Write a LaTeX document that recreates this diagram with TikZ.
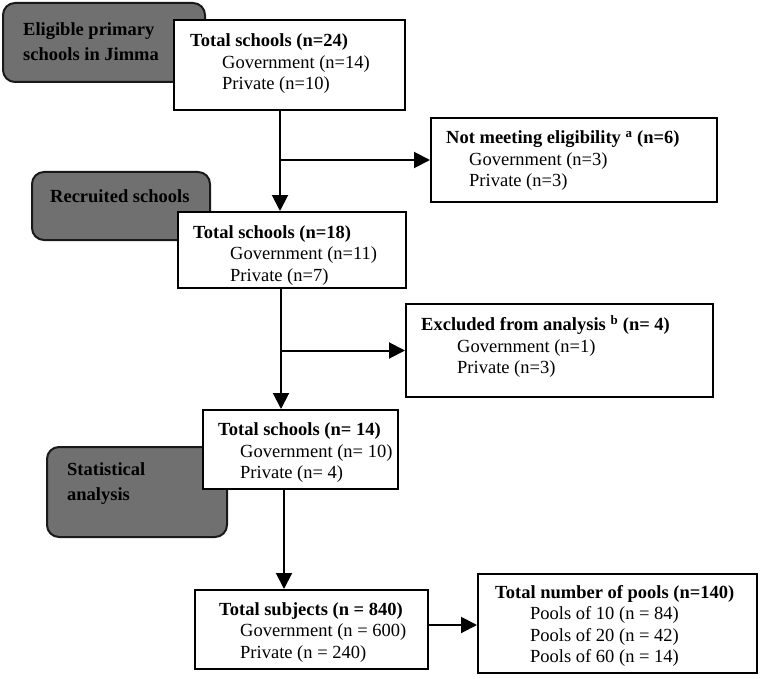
\documentclass[tikz,border=0pt]{standalone}
\usepackage{fontspec}
\setmainfont{Liberation Serif}
\usetikzlibrary{arrows.meta}
\definecolor{graybox}{RGB}{112,112,112}
\tikzset{
  whitebox/.style={draw=black, fill=white, line width=2pt, inner sep=0pt, minimum width=#1},
  graycard/.style={draw=black!90, fill=graybox, line width=2pt, rounded corners=12pt, inner sep=0pt},
  boxtext/.style={anchor=west, inner sep=0pt, align=left, font=\fontsize{18.5}{21.5}\selectfont},
  graytext/.style={anchor=west, inner sep=0pt, align=left, font=\fontsize{18.5}{24.5}\selectfont\bfseries},
  arr/.style={line width=2pt, -{Triangle[width=16pt,length=16pt]}}
}
\newcommand{\ind}[1]{\hspace*{#1pt}}
\begin{document}
\begin{tikzpicture}[x=1pt,y=-1pt]
\useasboundingbox (0,0) rectangle (762,679);
% gray cards
\node[graycard, minimum width=202pt, minimum height=79pt] (g1) at (104,42.5) {};
\node[graytext] (gt1) at (23,41.5) {Eligible primary\\schools in Jimma};
\node[graycard, minimum width=178pt, minimum height=68pt] (g2) at (121,206) {};
\node[graytext] (gt2) at (50,196) {Recruited schools};
\node[graycard, minimum width=180pt, minimum height=90pt] (g3) at (137,492) {};
\node[graytext] (gt3) at (67,483.5) {Statistical\\analysis};
% white boxes
\node[whitebox=231pt, minimum height=90pt] (b1) at (289.5,65) {};
\node[boxtext] (t1) at (190,64) {\textbf{Total schools (n=24)}\\\ind{32}Government (n=14)\\\ind{32}Private (n=10)};
\node[whitebox=286pt, minimum height=84pt] (b2) at (574,160) {};
\node[boxtext] (t2) at (446,161) {\textbf{Not meeting eligibility \textsuperscript{a} (n=6)}\\\ind{23}Government (n=3)\\\ind{23}Private (n=3)};
\node[whitebox=228pt, minimum height=76pt] (b3) at (292,250) {};
\node[boxtext] (t3) at (193,255.5) {\textbf{Total schools (n=18)}\\\ind{37}Government (n=11)\\\ind{37}Private (n=7)};
\node[whitebox=307pt, minimum height=93pt] (b4) at (559.5,350.5) {};
\node[boxtext] (t4) at (421,346.5) {\textbf{Excluded from analysis \textsuperscript{b} (n= 4)}\\\ind{36}Government (n=1)\\\ind{36}Private (n=3)};
\node[whitebox=195pt, minimum height=79pt] (b5) at (300.5,449.5) {};
\node[boxtext] (t5) at (218,453) {\textbf{Total schools (n= 14)}\\\ind{22}Government (n= 10)\\\ind{22}Private (n= 4)};
\node[whitebox=233pt, minimum height=79pt] (b6) at (311.5,629.5) {};
\node[boxtext] (t6) at (219,632.5) {\textbf{Total subjects (n = 840)}\\\ind{21}Government (n = 600)\\\ind{21}Private (n = 240)};
\node[whitebox=279pt, minimum height=99pt] (b7) at (617.5,623.5) {};
\node[boxtext] (t7) at (495,626) {\textbf{Total number of pools (n=140)}\\\ind{35}Pools of 10 (n = 84)\\\ind{35}Pools of 20 (n = 42)\\\ind{35}Pools of 60 (n = 14)};
% connectors
\coordinate (c1) at (280,0);
\coordinate (c2) at (281,0);
\coordinate (c3) at (284,0);
\coordinate (c4) at (0,625);
\draw[arr] (b1.south -| c1) -- (b3.north -| c1);
\draw[arr] (c1 |- b2.west) -- (b2.west);
\draw[arr] (b3.south -| c2) -- (b5.north -| c2);
\draw[arr] (c2 |- b4.west) -- (b4.west);
\draw[arr] (b5.south -| c3) -- (b6.north -| c3);
\draw[arr] (b6.east |- c4) -- (b7.west |- c4);
\end{tikzpicture}
\end{document}
